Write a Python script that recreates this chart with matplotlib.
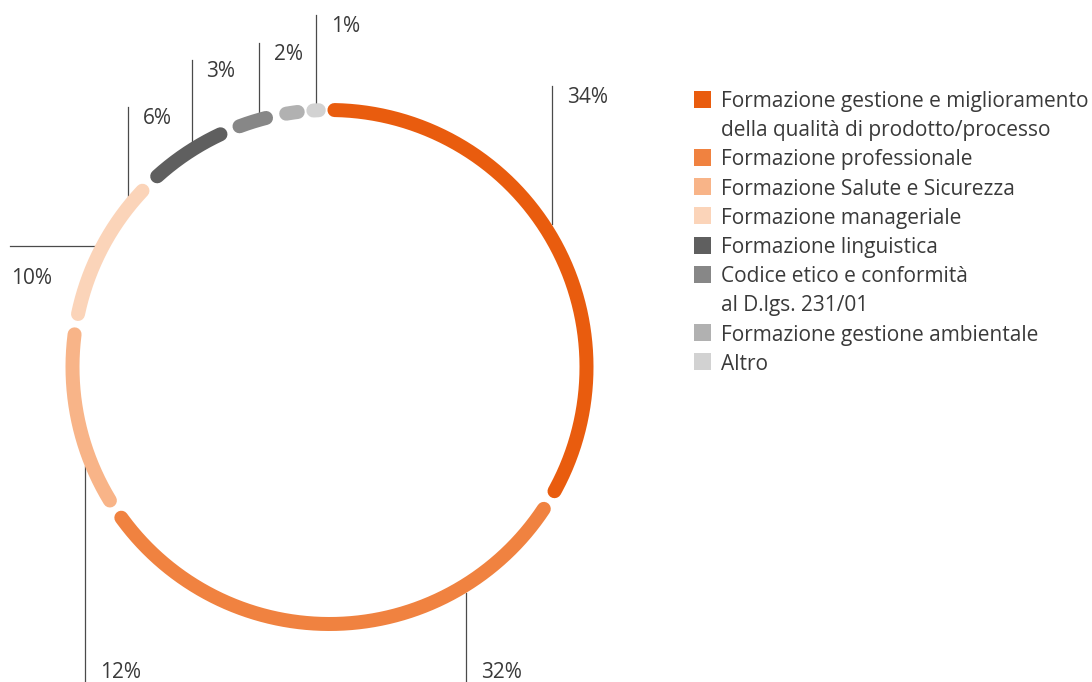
import numpy as np
import matplotlib
matplotlib.use("Agg")
import matplotlib.pyplot as plt
from matplotlib.patches import Rectangle

# ---- data ----
categories = [
    "Formazione gestione e miglioramento\ndella qualità di prodotto/processo",
    "Formazione professionale",
    "Formazione Salute e Sicurezza",
    "Formazione manageriale",
    "Formazione linguistica",
    "Codice etico e conformità\nal D.lgs. 231/01",
    "Formazione gestione ambientale",
    "Altro",
]
values = [34, 32, 12, 10, 6, 3, 2, 1]
value_labels = ["34%", "32%", "12%", "10%", "6%", "3%", "2%", "1%"]

# ---- style ----
colors = ["#E95C0E", "#F08240", "#F8B488", "#FBD4B9",
          "#5F5F5F", "#878787", "#B1B1B1", "#D2D2D2"]
text_color = "#3A3A3A"
line_color = "#4A4A4A"
plt.rcParams["font.family"] = ["Open Sans", "DejaVu Sans"]

W, H = 1092, 682
fig = plt.figure(figsize=(W / 100, H / 100), dpi=100)
ax = fig.add_axes([0, 0, 1, 1])
ax.set_xlim(0, W)
ax.set_ylim(H, 0)
ax.set_aspect("equal")
ax.axis("off")

# ring geometry (pixel units, angles clockwise from 12 o'clock)
cx, cy = 329.5, 367.0
ring_w = 14.0
r = 257.0
r_out = r + ring_w / 2
gap = 4.6
offset = -1.2
min_span = 1.2
lw_pt = ring_w * 72 / 100


def pt(angle_deg, radius):
    a = np.radians(angle_deg)
    return cx + radius * np.sin(a), cy - radius * np.cos(a)


total = sum(values)
start = offset
for v, c in zip(values, colors):
    sweep = 360.0 * v / total
    a0, a1 = start + gap / 2, start + sweep - gap / 2
    if a1 - a0 < min_span:
        mid = start + sweep / 2
        a0, a1 = mid - min_span / 2, mid + min_span / 2
    th = np.linspace(a0, a1, 200)
    xs, ys = pt(th, r)
    ax.plot(xs, ys, color=c, lw=lw_pt, solid_capstyle="round", zorder=3)
    start += sweep

# leader lines: angle where the line meets the ring, direction, far end
leaders = [
    (57.3, "up", 86),
    (148.8, "down", 682),
    (247.9, "down", 682),
    (297.4, "left", 10),
    (310.2, "up", 107),
    (328.5, "up", 60),
    (344.5, "up", 43),
    (357.0, "up", 15),
]
fs = 15
fw = "normal"
for (ang, d, end), lab in zip(leaders, value_labels):
    x0, y0 = pt(ang, r_out)
    if d == "up":
        ax.plot([x0, x0], [y0, end], color=line_color, lw=0.9, zorder=2)
        ax.text(x0 + 15, end + 1, lab, color=text_color, fontsize=fs,
                ha="left", va="top", fontweight=fw)
    elif d == "down":
        ax.plot([x0, x0], [y0, end], color=line_color, lw=0.9, zorder=2)
        ax.text(x0 + 15, end - 4, lab, color=text_color, fontsize=fs,
                ha="left", va="baseline", fontweight=fw)
    else:
        ax.plot([x0, end], [y0, y0], color=line_color, lw=0.9, zorder=2)
        ax.text(end + 1, y0 + 22, lab, color=text_color, fontsize=fs,
                ha="left", va="top", fontweight=fw)

# legend
lx, ly, step, sq = 694, 99, 29.2, 17
row = 0
for lab, c in zip(categories, colors):
    y = ly + row * step
    ax.add_patch(Rectangle((lx, y - sq / 2), sq, sq, color=c, lw=0))
    for k, line in enumerate(lab.split("\n")):
        ax.text(lx + 27, y + k * step, line, color=text_color, fontsize=fs,
                ha="left", va="center_baseline", fontweight=fw)
    row += lab.count("\n") + 1

fig.savefig("out.png", dpi=100)
